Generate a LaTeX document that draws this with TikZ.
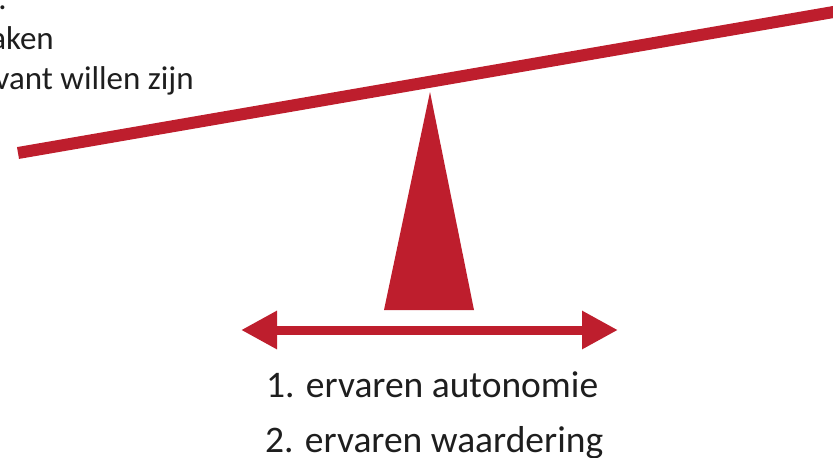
\documentclass[tikz,border=0pt]{standalone}
\usepackage{fontspec}
\setmainfont{Carlito}
\usetikzlibrary{arrows.meta}
\definecolor{beamred}{HTML}{BE1E2D}
\definecolor{txt}{HTML}{1E1E1E}
\tikzset{
  lbl/.style={inner sep=0pt, text=txt, font=\fontsize{37.5}{42}\selectfont},
  toplbl/.style={inner sep=0pt, text=txt, font=\fontsize{33}{37}\selectfont, anchor=base east},
}
\begin{document}
\begin{tikzpicture}[x=1pt,y=-1pt]
\useasboundingbox (0,0) rectangle (833,458);
% beam
\coordinate (bl) at (18,153);
\coordinate (br) at (845,10);
\draw[line width=12pt, beamred] (bl) -- (br);
% fulcrum
\coordinate (apex) at (430,92);
\coordinate (fl) at (384,310);
\coordinate (fr) at (474,310);
\fill[beamred] (apex) -- (fl) -- (fr) -- cycle;
% double arrow
\coordinate (al) at (241,330);
\coordinate (ar) at (618,330);
\draw[line width=9pt, beamred, {Triangle[width=36pt,length=36pt]}-{Triangle[width=36pt,length=36pt]}] (al) -- (ar);
% texts
\node[lbl, anchor=base west] (t1) at (266,397) {1. ervaren autonomie};
\node[lbl, anchor=base west] (t2) at (265,452) {2. ervaren waardering};
\node[toplbl] (u0) at (7,9) {.};
\node[toplbl] (u1) at (54,49) {aken};
\node[toplbl] (u2) at (194,89) {vant willen zijn};
\end{tikzpicture}
\end{document}
